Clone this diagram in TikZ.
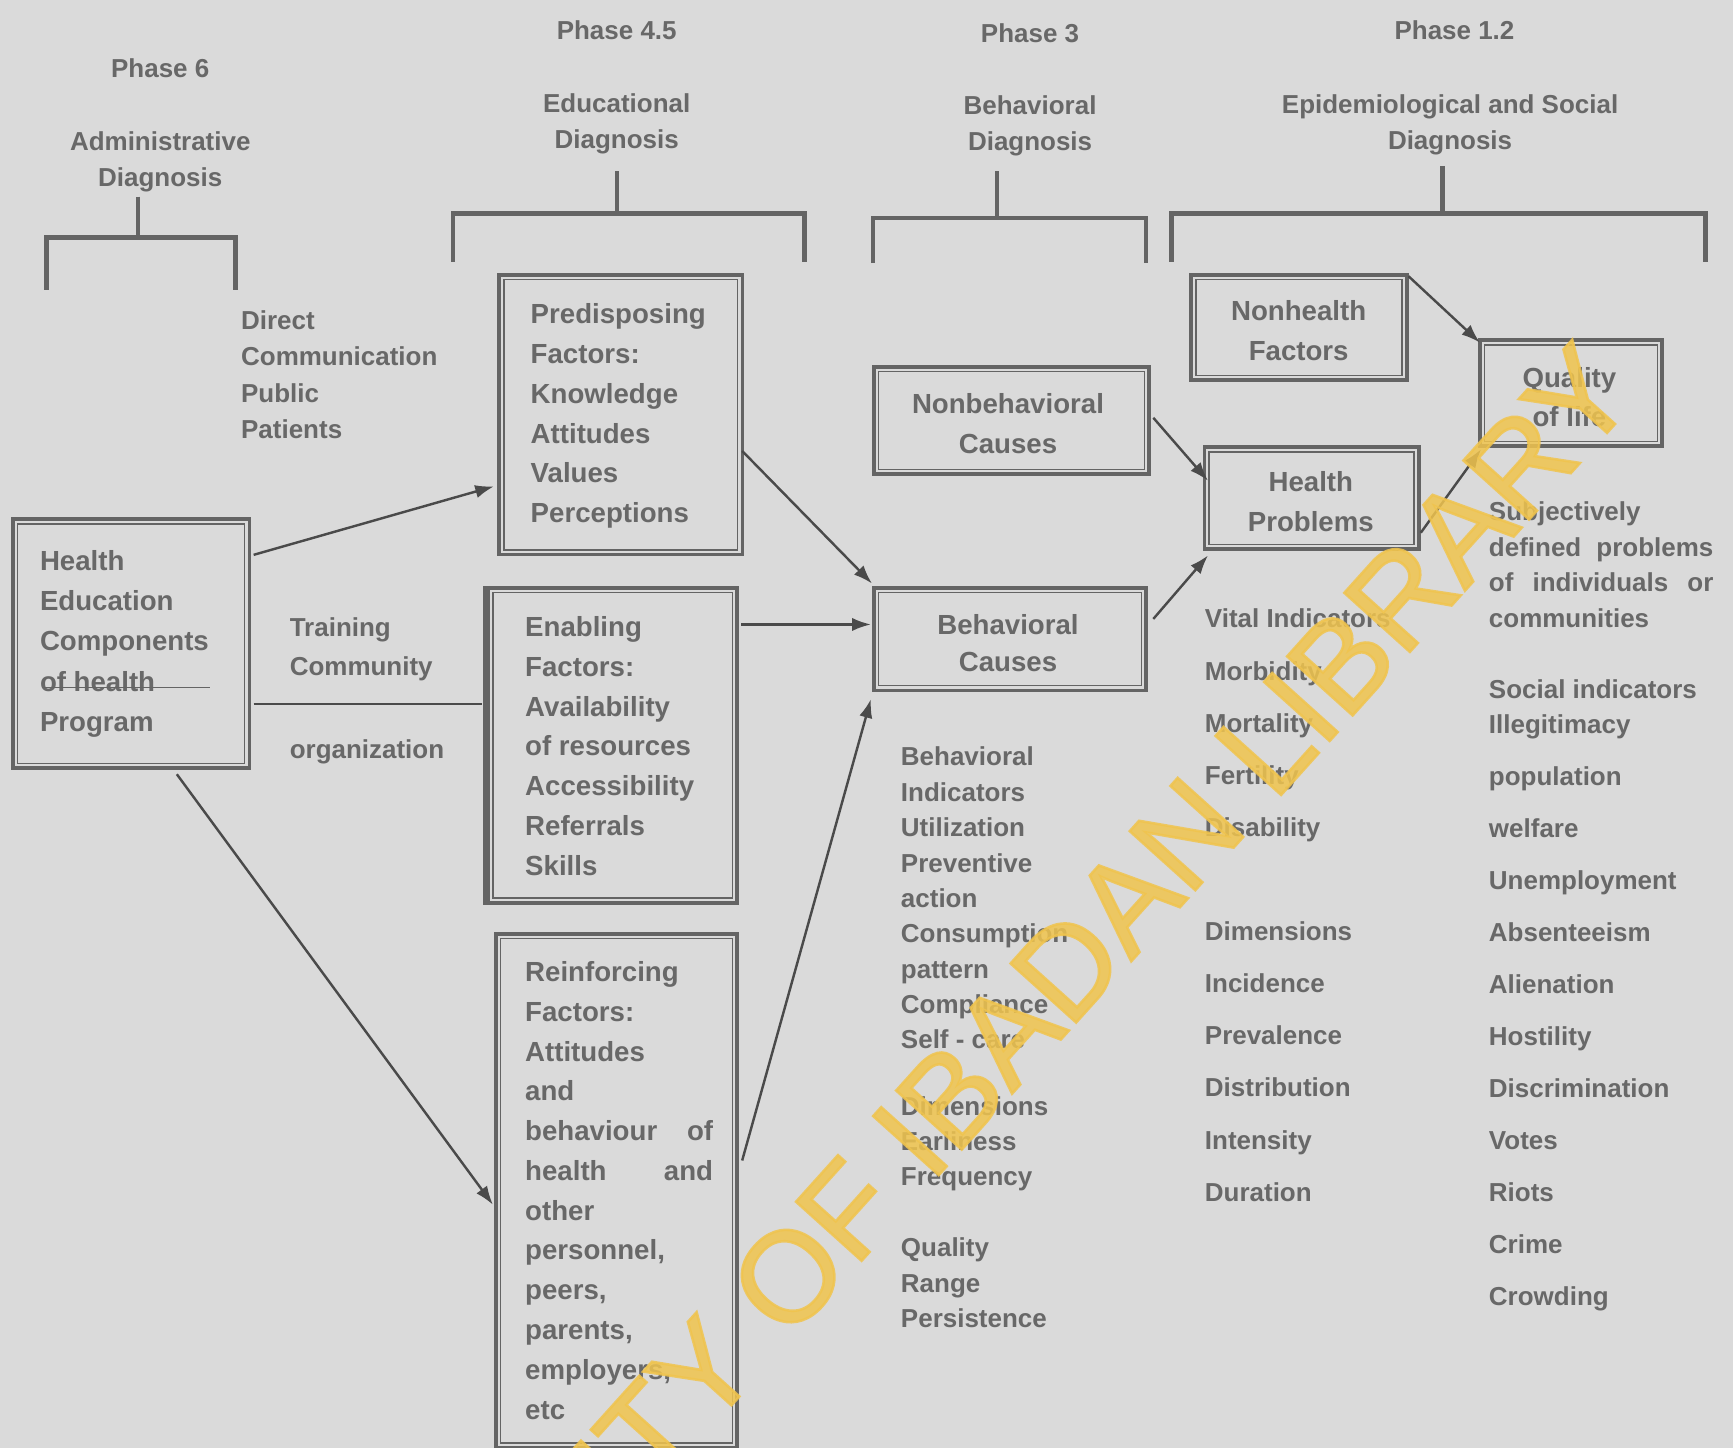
\documentclass[tikz,border=0pt]{standalone}
\usepackage{fontspec}
\setmainfont{Liberation Sans}
\newfontfamily\wmfont[FakeBold=2]{Liberation Sans}
\usetikzlibrary{arrows.meta,calc}
\definecolor{bg}{HTML}{DADADA}
\definecolor{ink}{HTML}{686868}
\definecolor{lin}{HTML}{646464}
\definecolor{arrc}{HTML}{4A4A4A}
\definecolor{wm}{HTML}{F0C44E}
\newcommand\innerframe[1]{\draw[thinframe] ($(#1.north west)+(6,6)$) rectangle ($(#1.south east)+(-6,-6)$);}
\newcommand\lcol[1]{\begin{tabular}[t]{@{}l@{}}#1\end{tabular}}
\newcommand\ccol[1]{\begin{tabular}[t]{@{}c@{}}#1\end{tabular}}
\begin{document}
\begin{tikzpicture}[x=1pt,y=-1pt,
  frame/.style={draw=lin,line width=3.5pt,inner sep=0pt,anchor=north west},
  thinframe/.style={draw=lin,line width=1.2pt},
  bxt/.style={font=\fontsize{25}{36}\selectfont\bfseries,text=ink,inner sep=0pt,anchor=base west},
  bxc/.style={bxt,anchor=base},
  lst/.style={font=\fontsize{23.5}{32}\selectfont\bfseries,text=ink,inner sep=0pt,anchor=base west},
  hd/.style={font=\fontsize{23.5}{32.5}\selectfont\bfseries,text=ink,inner sep=0pt,anchor=base},
  brk/.style={draw=lin,line width=4pt},
  arr/.style={draw=arrc,line width=2.2pt,-{Latex[length=17pt,width=12pt]}},
]
\useasboundingbox (0,0) rectangle (1568,1310);
\fill[bg] (0,0) rectangle (1568,1310);
\clip (0,0) rectangle (1568,1310);

% headings
\node[hd] (h6) at (145,70) {Phase 6};
\node[hd] (h6b) at (145,136) {\ccol{Administrative\\Diagnosis}};
\node[hd] (h45) at (558,36) {Phase 4.5};
\node[hd] (h45b) at (558,102) {\ccol{Educational\\Diagnosis}};
\node[hd] (h3) at (932,38) {Phase 3};
\node[hd] (h3b) at (932,104) {\ccol{Behavioral\\Diagnosis}};
\node[hd] (h12) at (1316,36) {Phase 1.2};
\node[hd] (h12b) at (1312,103) {\ccol{Epidemiological and Social\\Diagnosis}};

% brackets
\draw[brk] (125,178) -- (125,215);
\draw[brk] (42,262) -- (42,215) -- (213,215) -- (213,262);
\draw[brk] (558,155) -- (558,193);
\draw[brk] (410,237) -- (410,193) -- (728,193) -- (728,237);
\draw[brk] (902,155) -- (902,197);
\draw[brk] (790,238) -- (790,197) -- (1037,197) -- (1037,238);
\draw[brk] (1305,150) -- (1305,192);
\draw[brk] (1060,237) -- (1060,193) -- (1543,193) -- (1543,237);

% boxes
\node[frame,minimum width=214pt,minimum height=225pt] (he) at (10,468) {};
\node[frame,minimum width=220pt,minimum height=253pt] (pre) at (450,247) {};
\node[frame,minimum width=225pt,minimum height=285pt] (en) at (440,530) {};
\node[frame,minimum width=218pt,minimum height=465pt] (re) at (447,843) {};
\node[frame,minimum width=249pt,minimum height=97pt] (nb) at (789,330) {};
\node[frame,minimum width=246pt,minimum height=93pt] (beh) at (789,530) {};
\node[frame,minimum width=195pt,minimum height=95pt] (nh) at (1076,247) {};
\node[frame,minimum width=194pt,minimum height=92pt] (hp) at (1088,403) {};
\node[frame,minimum width=165pt,minimum height=96pt] (ql) at (1337,306) {};
\innerframe{he}\innerframe{pre}\innerframe{en}\innerframe{re}
\innerframe{nb}\innerframe{beh}\innerframe{nh}\innerframe{hp}\innerframe{ql}
\draw[draw=lin,line width=6pt] (en.north west) -- (en.south west);

% box texts
\node[bxt,font=\fontsize{25}{36.5}\selectfont\bfseries] (het) at (36,516) {\lcol{Health\\Education\\Components\\of health\\Program}};
\draw[draw=lin,line width=1.5pt] (40,622) -- (190,622);
\node[bxt] (pret) at (480,293) {\lcol{Predisposing\\Factors:\\Knowledge\\Attitudes\\Values\\Perceptions}};
\node[bxt] (ent) at (475,576) {\lcol{Enabling\\Factors:\\Availability\\of resources\\Accessibility\\Referrals\\Skills}};
\node[bxt] (ret) at (475,888) {\lcol{Reinforcing\\Factors:\\Attitudes\\and\\\makebox[170pt][s]{behaviour of}\\\makebox[170pt][s]{health and}\\other\\personnel,\\peers,\\parents,\\employers,\\etc}};
\node[bxc] (nbt) at (912,374) {\ccol{Nonbehavioral\\Causes}};
\node[bxc,font=\fontsize{25}{34}\selectfont\bfseries] (beht) at (912,574) {\ccol{Behavioral\\Causes}};
\node[bxc] (nht) at (1175,290) {\ccol{Nonhealth\\Factors}};
\node[bxc] (hpt) at (1186,445) {\ccol{Health\\Problems}};
\node[bxc,font=\fontsize{25}{35}\selectfont\bfseries] (qlt) at (1420,351) {\ccol{Quality\\of life}};

% free labels
\node[lst,font=\fontsize{23.5}{33}\selectfont\bfseries] (dc) at (218,298) {\lcol{Direct\\Communication\\Public\\Patients}};
\node[lst,font=\fontsize{23.5}{35}\selectfont\bfseries] (tc) at (262,576) {\lcol{Training\\Community}};
\node[lst] (org) at (262,686) {organization};
\node[lst] (bi) at (815,693) {\lcol{Behavioral\\Indicators\\Utilization\\Preventive\\action\\Consumption\\pattern\\Compliance\\Self - care\\[28pt]Dimensions\\Earliness\\Frequency\\[32pt]Quality\\Range\\Persistence}};
\node[lst,font=\fontsize{23.5}{47.3}\selectfont\bfseries] (vi) at (1090,568) {\lcol{Vital Indicators\\Morbidity\\Mortality\\Fertility\\Disability\\[46pt]Dimensions\\Incidence\\Prevalence\\Distribution\\Intensity\\Duration}};
\node[lst,font=\fontsize{23.5}{32.3}\selectfont\bfseries] (subj) at (1347,471) {\lcol{Subjectively\\\makebox[203pt][s]{defined problems}\\\makebox[203pt][s]{of individuals or}\\communities}};
\node[lst] (socA) at (1347,632) {Social indicators};
\node[lst,font=\fontsize{23.5}{47}\selectfont\bfseries] (soc) at (1347,664) {\lcol{Illegitimacy\\population\\welfare\\Unemployment\\Absenteeism\\Alienation\\Hostility\\Discrimination\\Votes\\Riots\\Crime\\Crowding}};

% connectors
\draw[arr] ($(he.north east)+(2,34)$) -- ($(pre.north west)+(-3,193)$);
\draw[draw=arrc,line width=2.2pt] ($(he.north east)+(2,169)$) -- ($(en.north west)+(-4,107)$);
\draw[arr] ($(he.south west)+(150,4)$) -- ($(re.north west)+(-1,247)$);
\draw[arr] ($(pre.north east)+(-2,161)$) -- ($(beh.north west)+(0,-2)$);
\draw[arr] ($(en.north east)+(2,35)$) -- ($(beh.north west)+(-1,35)$);
\draw[arr] ($(re.north east)+(3,207)$) -- ($(beh.south west)+(-1,6)$);
\draw[arr] ($(nb.north east)+(2,48)$) -- ($(hp.north west)+(5,32)$);
\draw[arr] ($(beh.north east)+(5,30)$) -- ($(hp.south west)+(5,4)$);
\draw[arr] ($(nh.north east)+(0,3)$) -- ($(ql.north west)+(2,4)$);
\draw[arr] ($(hp.north east)+(0,79)$) -- ($(ql.south west)+(3,1)$);

% watermark
\node[font=\wmfont\fontsize{116}{116}\selectfont,text=wm,text opacity=0.85,rotate=48,anchor=east,inner sep=0pt] (wmark) at (1454,332) {UNIVERSITY OF IBADAN LIBRARY};
\end{tikzpicture}
\end{document}
